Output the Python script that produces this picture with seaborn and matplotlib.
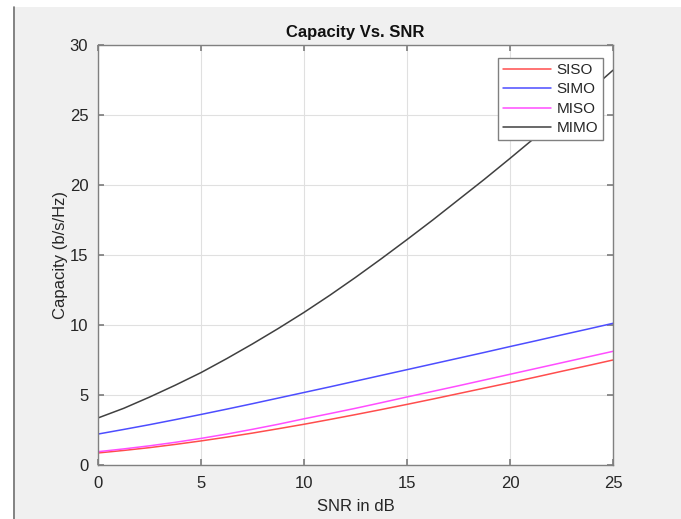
import numpy as np
import pandas as pd
import matplotlib
matplotlib.use("Agg")
import matplotlib.pyplot as plt
import seaborn as sns
from matplotlib.patches import Rectangle
from matplotlib.lines import Line2D

snr_db = [0, 1.25, 2.5, 3.75, 5, 6.25, 7.5, 8.75, 10, 11.25, 12.5, 13.75, 15,
          16.25, 17.5, 18.75, 20, 21.25, 22.5, 23.75, 25]
siso = [0.86, 1.04, 1.24, 1.47, 1.72, 1.99, 2.28, 2.59, 2.91, 3.25, 3.60, 3.96, 4.33,
        4.71, 5.10, 5.49, 5.88, 6.28, 6.69, 7.09, 7.50]
simo = [2.21, 2.54, 2.88, 3.24, 3.61, 3.99, 4.38, 4.78, 5.18, 5.58, 5.99, 6.40, 6.81,
        7.22, 7.63, 8.04, 8.46, 8.87, 9.29, 9.70, 10.12]
miso = [0.95, 1.15, 1.37, 1.62, 1.90, 2.21, 2.55, 2.91, 3.30, 3.67, 4.05, 4.45, 4.86,
        5.26, 5.66, 6.07, 6.48, 6.89, 7.30, 7.71, 8.12]
mimo = [3.36, 4.05, 4.85, 5.70, 6.60, 7.60, 8.65, 9.75, 10.90, 12.12, 13.40, 14.73, 16.10,
        17.50, 18.95, 20.40, 21.90, 23.43, 25.00, 26.58, 28.20]
series_names = ["SISO", "SIMO", "MISO", "MIMO"]
colors = ["#ff4d4d", "#4d4dff", "#ff4dff", "#404040"]

df = pd.DataFrame({
    "snr": snr_db * 4,
    "cap": siso + simo + miso + mimo,
    "scheme": sum([[n] * len(snr_db) for n in series_names], []),
})

sns.set_theme(style="whitegrid")
plt.rcParams["font.family"] = ["Liberation Sans", "DejaVu Sans"]

fig = plt.figure(figsize=(6.81, 5.19), dpi=100)
fig.patch.set_facecolor("#f0f0f0")
# white screenshot border
fig.add_artist(Rectangle((0, 1 - 7 / 519), 1, 7 / 519, transform=fig.transFigure,
                         facecolor="white", edgecolor="none", zorder=0))
fig.add_artist(Rectangle((0, 0), 13 / 681, 1, transform=fig.transFigure,
                         facecolor="white", edgecolor="none", zorder=0))
fig.add_artist(Line2D([13.5 / 681, 13.5 / 681], [0, 1 - 7 / 519], transform=fig.transFigure,
                      color="#707070", lw=1.2))

ax = fig.add_axes([98 / 681, 54 / 519, (613 - 98) / 681, (465 - 45) / 519])
ax.set_facecolor("white")
sns.lineplot(data=df, x="snr", y="cap", hue="scheme", hue_order=series_names,
             palette=colors, linewidth=1.1, ax=ax, legend=True)

ax.set_xlim(0, 25)
ax.set_ylim(0, 30)
ax.set_xticks([0, 5, 10, 15, 20, 25])
ax.set_yticks([0, 5, 10, 15, 20, 25, 30])
ax.grid(True, color="#e0e0e0", linewidth=0.8)
ax.tick_params(direction="in", length=4, color="#808080", labelsize=12,
               labelcolor="#262626", top=True, right=True, bottom=True, left=True)
ax.tick_params(axis="x", pad=8)
ax.tick_params(axis="y", pad=7)
ax.xaxis.set_ticks_position("both")
ax.yaxis.set_ticks_position("both")
for s in ax.spines.values():
    s.set_visible(True)
    s.set_color("#808080")
    s.set_linewidth(1.0)

ax.set_xlabel("SNR in dB", fontsize=12, color="#262626", labelpad=6)
ax.set_ylabel("Capacity (b/s/Hz)", fontsize=12, color="#262626", labelpad=1)
ax.set_title("Capacity Vs. SNR", fontsize=12, fontweight="bold", color="#111111", pad=6)

leg = ax.legend(loc="upper right", bbox_to_anchor=(0.981, 0.969), fontsize=11,
                frameon=True, fancybox=False, handlelength=3.1, handletextpad=0.4,
                labelspacing=0.36, borderpad=0.32, borderaxespad=0.0)
leg.get_frame().set_edgecolor("#808080")
leg.get_frame().set_linewidth(1.0)
leg.get_frame().set_alpha(1)
for t in leg.get_texts():
    t.set_color("#262626")

fig.savefig("out.png", dpi=100, facecolor=fig.get_facecolor())
